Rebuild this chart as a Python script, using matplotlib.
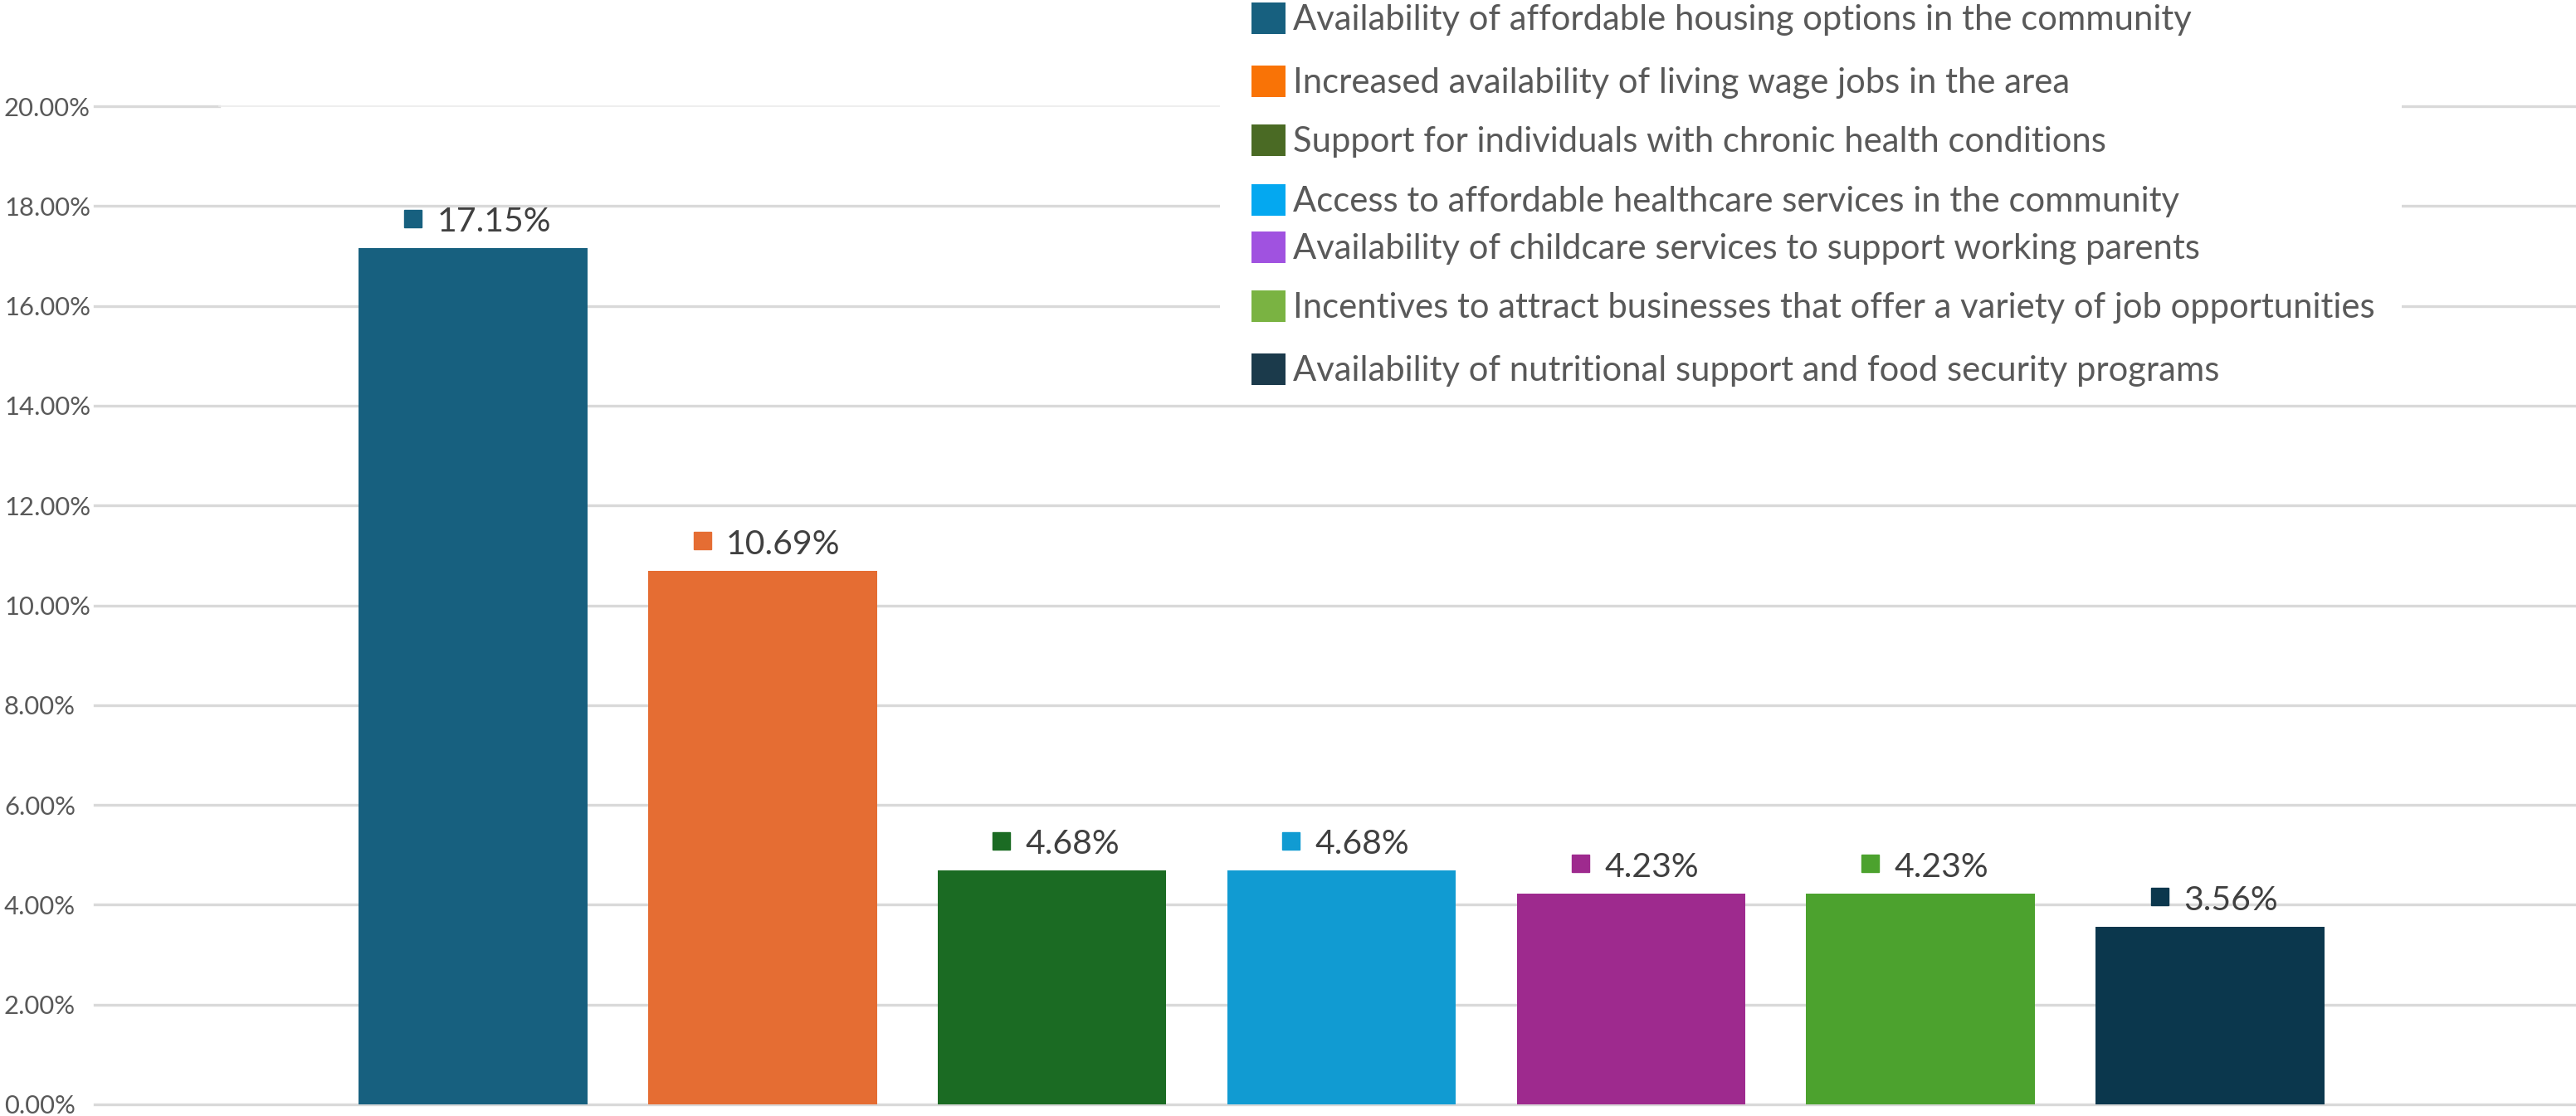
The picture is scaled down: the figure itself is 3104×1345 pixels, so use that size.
import matplotlib
matplotlib.use("Agg")
import matplotlib.pyplot as plt
from matplotlib.patches import Rectangle
from matplotlib.transforms import offset_copy

categories = [
    "Availability of affordable housing options in the community",
    "Increased availability of living wage jobs in the area",
    "Support for individuals with chronic health conditions",
    "Access to affordable healthcare services in the community",
    "Availability of childcare services to support working parents",
    "Incentives to attract businesses that offer a variety of job opportunities",
    "Availability of nutritional support and food security programs",
]
values = [17.15, 10.69, 4.68, 4.68, 4.23, 4.23, 3.56]
bar_colors = ["#17607F", "#E56D33", "#1B6B23", "#119BD2", "#9E2A8E", "#4CA22E", "#0B374D"]
legend_colors = ["#17607F", "#F97306", "#4A6A24", "#04A8F0", "#A052E0", "#7AB342", "#1B3A4B"]
yticks = [0, 2, 4, 6, 8, 10, 12, 14, 16, 18, 20]
ytick_labels = ["0.00%", "2.00%", "4.00%", "6.00%", "8.00%", "10.00%", "12.00%",
                "14.00%", "16.00%", "18.00%", "20.00%"]

W, H, DPI = 3104, 1345, 100
FONT = "Lato"
TXT = "#595959"
GRID = "#D9D9D9"

fig = plt.figure(figsize=(W / DPI, H / DPI), dpi=DPI)
ax_left, ax_right = 114 / W, 1.0
ax_bottom, ax_top = (H - 1331) / H, (H - 128) / H
ax = fig.add_axes([ax_left, ax_bottom, ax_right - ax_left, ax_top - ax_bottom])

x = list(range(len(values)))
ax.bar(x, values, width=0.79, color=bar_colors, zorder=3)
ax.set_xlim(-1.307, len(values) - 1 + 1.264)
ax.set_ylim(0, 20)

# gridlines
for t in yticks:
    if t == 20:
        f1 = (264 - 114) / (W - 114)
        ax.axhline(t, xmin=0, xmax=f1, color=GRID, lw=2.4, zorder=1, clip_on=False)
        ax.axhline(t, xmin=f1, xmax=1, color="#EBEBEB", lw=1.2, zorder=1, clip_on=False)
        f2 = (2894 - 114) / (W - 114)
        ax.axhline(t, xmin=f2, xmax=1, color=GRID, lw=2.4, zorder=1, clip_on=False)
    else:
        ax.axhline(t, color=GRID, lw=2.4, zorder=1, clip_on=False)

for s in ax.spines.values():
    s.set_visible(False)
ax.set_xticks([])
ax.set_yticks(yticks)
ax.set_yticklabels(ytick_labels, family=FONT, fontsize=22.3, color=TXT)
ax.tick_params(axis="y", length=0, pad=0)
for lab in ax.get_yticklabels():
    lab.set_horizontalalignment("left")
    lab.set_x(-(114 - 5) / (W - 114))

# legend white box (covers gridlines)
fig.patches.append(Rectangle((1470 / W, 1 - 475 / H), (2894 - 1470) / W, 475 / H,
                             transform=fig.transFigure, facecolor="white",
                             edgecolor="none", zorder=5))
row_centers = [22, 98, 169, 241, 298, 369, 445]
for name, col, yc in zip(categories, legend_colors, row_centers):
    fig.patches.append(Rectangle((1508 / W, 1 - (yc + 19) / H), 41 / W, 38 / H,
                                 transform=fig.transFigure, facecolor=col,
                                 edgecolor="none", zorder=6))
    fig.text(1558 / W, 1 - (yc + 2) / H, name, family=FONT, fontsize=30.1,
             color=TXT, va="center", ha="left", zorder=7)

# data labels: square marker + value, centered above bar
renderer = fig.canvas.get_renderer()
msz, gap = 21, 19
for i, v in enumerate(values):
    t = ax.text(i, v, f"{v:.2f}%", family=FONT, fontsize=29.5, color="#404040",
                ha="left", va="baseline", zorder=4)
    wpx = t.get_window_extent(renderer).width
    total = msz + gap + wpx
    left = -total / 2 + 5
    t.set_transform(offset_copy(ax.transData, fig=fig, x=left + msz + gap, y=20, units="dots"))
    mtr = offset_copy(ax.transData, fig=fig, x=left + msz / 2, y=20 + 6 + msz / 2, units="dots")
    ax.plot([i], [v], marker="s", ms=msz * 72 / DPI, color=bar_colors[i],
            transform=mtr, clip_on=False, zorder=4, linestyle="none")

fig.savefig("out.png", dpi=DPI, facecolor="white")
